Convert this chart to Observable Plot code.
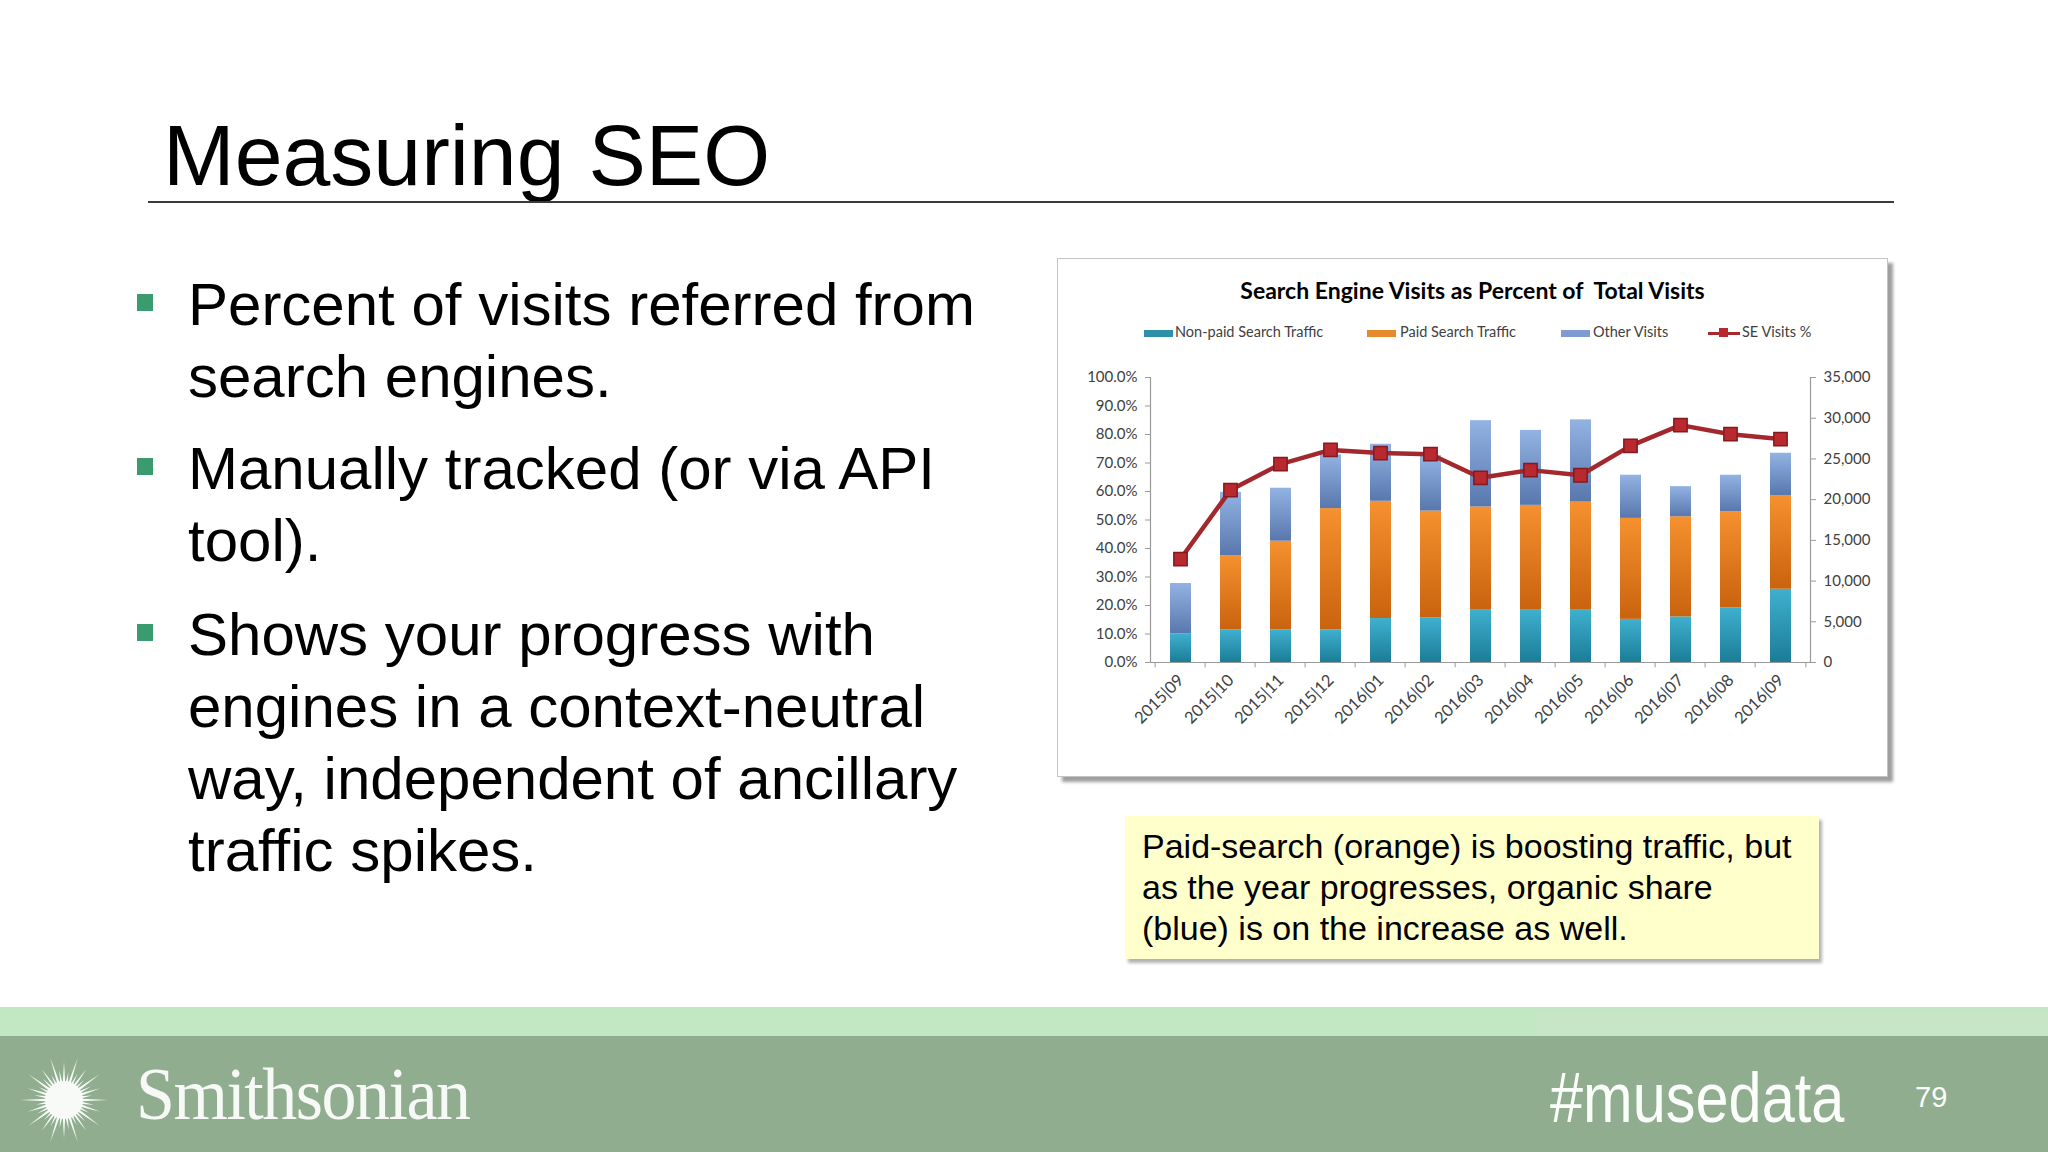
<!DOCTYPE html>
<html><head><meta charset="utf-8">
<script src="https://cdn.jsdelivr.net/npm/d3@7"></script>
<script src="https://cdn.jsdelivr.net/npm/@observablehq/plot@0.6"></script>
<style>
html,body{margin:0;padding:0;background:#fff;}
#slide{position:relative;width:2048px;height:1152px;overflow:hidden;background:#fff;font-family:"Liberation Sans",Arial,sans-serif;color:#000;}
.abs{position:absolute;}
#title{left:163px;top:112px;font-size:86px;line-height:86px;white-space:nowrap;}
#rule{left:148px;top:201px;width:1746px;height:2px;background:#3a3a3a;}
.para{left:188px;font-size:60px;line-height:72px;white-space:nowrap;}
.bullet{left:137px;width:16px;height:17px;background:#3a9b6e;}
#chartbox{left:1057px;top:258px;width:829px;height:517px;border:1px solid #c4c4c4;background:#fff;box-shadow:5px 5px 3px rgba(0,0,0,0.38);}
#ctitle{left:1057px;top:276px;width:831px;text-align:center;font-family:Lato,"Open Sans",sans-serif;font-weight:bold;font-size:23px;line-height:28px;white-space:pre;color:#000;}
.leg{top:323px;font-family:Lato,sans-serif;font-size:14.5px;line-height:18px;color:#404040;white-space:nowrap;}
.sw{top:330px;height:7px;}
#callout{left:1125px;top:816px;width:677px;height:133px;padding:10px 0 0 17px;background:#ffffcc;box-shadow:3px 4px 3px rgba(0,0,0,0.3);font-size:34px;line-height:41px;white-space:nowrap;}
#band1{left:0;top:1007px;width:2048px;height:29px;background:#c2e7c3;}
#band1b{left:1536px;top:1010px;width:512px;height:26px;background:#c6e6c6;}
#band2{left:0;top:1036px;width:2048px;height:116px;background:#90ae8f;}
#smith{left:136px;top:1057px;font-family:"Liberation Serif","DejaVu Serif",serif;font-size:70px;line-height:80px;letter-spacing:-1.5px;color:#f7f9f7;white-space:nowrap;transform:scaleY(1.05);transform-origin:left bottom;}
#muse{left:1550px;top:1058px;font-size:70px;line-height:80px;color:#fbfdfb;transform:scaleX(0.85);transform-origin:left top;white-space:nowrap;}
#page{left:1915px;top:1080px;font-size:29px;line-height:34px;color:#fbfdfb;}
</style></head>
<body><div id="slide"></div>
<script>
// ---- data ----
const months = ["2015|09","2015|10","2015|11","2015|12","2016|01","2016|02","2016|03","2016|04","2016|05","2016|06","2016|07","2016|08","2016|09"];
const seriesNames = ["Non-paid Search Traffic","Paid Search Traffic","Other Visits"];
const nonPaid = [3500, 4000, 4000, 4000, 5400, 5500, 6500, 6500, 6500, 5300, 5600, 6700, 9000];
const paidSearch = [0, 9100, 10900, 14900, 14400, 13100, 12600, 12800, 13200, 12400, 12300, 11800, 11500];
const otherVisits = [6200, 7800, 6500, 6600, 7000, 6800, 10600, 9200, 10100, 5300, 3700, 4500, 5200];
const seVisitsPct = [36.3, 60.5, 69.6, 74.6, 73.5, 73.1, 64.8, 67.5, 65.7, 76.0, 83.3, 80.1, 78.4];
const visitTicks = [0, 5000, 10000, 15000, 20000, 25000, 30000, 35000];
const pctTicks = [0, 10, 20, 30, 40, 50, 60, 70, 80, 90, 100];

const slide = document.getElementById("slide");
function add(id, cls, html) {
  const d = document.createElement("div");
  if (id) d.id = id;
  d.className = "abs" + (cls ? " " + cls : "");
  if (html != null) d.innerHTML = html;
  slide.appendChild(d);
  return d;
}

// ---- slide text ----
add("title", "", "Measuring SEO");
add("rule", "");
const paras = [
  {top: 269, lines: ["Percent of visits referred from", "search engines."]},
  {top: 433, lines: ["Manually tracked (or via API", "tool)."]},
  {top: 599, lines: ["Shows your progress with", "engines in a context-neutral", "way, independent of ancillary", "traffic spikes."]}
];
paras.forEach(p => {
  const d = add(null, "para", p.lines.join("<br>"));
  d.style.top = p.top + "px";
  const b = add(null, "bullet");
  b.style.top = (p.top + 25) + "px";
});

// ---- chart box ----
add("chartbox", "");
add("ctitle", "", "Search Engine Visits as Percent of  Total Visits");

const colors = {
  teal: ["#3fb0cf", "#1b7d97"],
  orange: ["#f5912f", "#c9630e"],
  blue: ["#93b3e3", "#5877ad"]
};
const legendItems = [
  {label: seriesNames[0], sx: 1144, tx: 1175, c: "#2e91aa"},
  {label: seriesNames[1], sx: 1367, tx: 1400, c: "#e78a2d"},
  {label: seriesNames[2], sx: 1561, tx: 1593, c: "#7f9bd2"},
  {label: "SE Visits %", sx: 1708, tx: 1742, c: null}
];
legendItems.forEach(it => {
  if (it.c) {
    const s = add(null, "sw");
    s.style.left = it.sx + "px"; s.style.width = "29px"; s.style.background = it.c;
  } else {
    const s = add(null, "sw");
    s.style.left = it.sx + "px"; s.style.width = "32px"; s.style.top = "332px"; s.style.height = "3px"; s.style.background = "#a8282d";
    const m = add(null, "sw");
    m.style.left = (it.sx + 11) + "px"; m.style.top = "328px"; m.style.width = "9px"; m.style.height = "9px"; m.style.background = "#b8292f";
  }
  const t = add(null, "leg", it.label);
  t.style.left = it.tx + "px";
});

// ---- plots ----
const W = 830, H = 400;
const M = {marginTop: 17, marginRight: 78, marginBottom: 98, marginLeft: 92};
const step = (W - M.marginLeft - M.marginRight) / months.length;
const baseStyle = {background: "transparent", fontFamily: "Lato, sans-serif", fontSize: "15px", color: "#404040", overflow: "visible"};

const long = months.flatMap((m, i) => [
  {month: m, series: seriesNames[0], value: nonPaid[i]},
  {month: m, series: seriesNames[1], value: paidSearch[i]},
  {month: m, series: seriesNames[2], value: otherVisits[i]}
]);

const barPlot = Plot.plot({
  width: W, height: H, ...M,
  style: baseStyle,
  x: {type: "band", domain: months, paddingInner: 0.59, paddingOuter: 0.295, label: null},
  y: {domain: [0, 35000], label: null},
  color: {domain: seriesNames, range: ["url(#gTeal)", "url(#gOrange)", "url(#gBlue)"]},
  marks: [
    Plot.barY(long, {x: "month", y: "value", fill: "series"}),
    Plot.ruleY([0], {stroke: "#9a9a9a", strokeWidth: 1.2}),
    Plot.frame({anchor: "right", stroke: "#9a9a9a", strokeWidth: 1.2}),
    Plot.axisY({anchor: "right", ticks: visitTicks, tickFormat: d3.format(","), tickSize: 5, tickPadding: 8, label: null, stroke: "#9a9a9a"}),
    Plot.axisX({tickRotate: -45, tickSize: 0, tickPadding: 15, label: null, fontSize: 16.5})
  ]
});
const defs = d3.select(barPlot).insert("defs", ":first-child");
[["gTeal", colors.teal], ["gOrange", colors.orange], ["gBlue", colors.blue]].forEach(([id, c]) => {
  const g = defs.append("linearGradient").attr("id", id).attr("x1", 0).attr("y1", 0).attr("x2", 0).attr("y2", 1);
  g.append("stop").attr("offset", "0%").attr("stop-color", c[0]);
  g.append("stop").attr("offset", "100%").attr("stop-color", c[1]);
});

const lineData = months.map((m, i) => ({month: m, pct: seVisitsPct[i]}));
const linePlot = Plot.plot({
  width: W, height: H, ...M,
  style: baseStyle,
  x: {type: "point", domain: months, padding: 0.5, axis: null},
  y: {domain: [0, 100], label: null},
  marks: [
    Plot.frame({anchor: "left", stroke: "#9a9a9a", strokeWidth: 1.2}),
    Plot.axisY({anchor: "left", ticks: pctTicks, tickFormat: d => d.toFixed(1) + "%", tickSize: 5, tickPadding: 8, label: null, stroke: "#9a9a9a"}),
    Plot.ruleX(months, {x: d => d, y1: 0, y2: -1.9, dx: -step / 2, stroke: "#9a9a9a"}),
    Plot.ruleX(months.slice(-1), {x: d => d, y1: 0, y2: -1.9, dx: step / 2, stroke: "#9a9a9a"}),
    Plot.line(lineData, {x: "month", y: "pct", stroke: "#a3282d", strokeWidth: 4.5}),
    Plot.dot(lineData, {x: "month", y: "pct", symbol: "square", r: 7.5, fill: "#b92a30", stroke: "#86191d", strokeWidth: 1.5})
  ]
});

[barPlot, linePlot].forEach(svg => {
  const wrap = add(null, "");
  wrap.style.left = "1058px"; wrap.style.top = "360px";
  wrap.appendChild(svg);
});

// ---- callout ----
add("callout", "", "Paid-search (orange) is boosting traffic, but<br>as the year progresses, organic share<br>(blue) is on the increase as well.");

// ---- footer ----
add("band1", "");
add("band1b", "");
add("band2", "");
const sunNS = "http://www.w3.org/2000/svg";
const sun = document.createElementNS(sunNS, "svg");
sun.setAttribute("width", 100); sun.setAttribute("height", 100);
sun.style.position = "absolute"; sun.style.left = "14px"; sun.style.top = "1050px";
const g = document.createElementNS(sunNS, "g");
g.setAttribute("transform", "translate(50,50)");
g.setAttribute("fill", "#f7faf7");
const nRays = 40;
for (let k = 0; k < nRays; k++) {
  const a = (k / nRays) * 2 * Math.PI;
  const len = [44, 30, 38, 28][k % 4];
  const w = 0.13;
  const p = document.createElementNS(sunNS, "path");
  const pt = (r, ang) => [r * Math.cos(ang), r * Math.sin(ang)].map(v => v.toFixed(2)).join(",");
  p.setAttribute("d", `M${pt(12, a - w)}L${pt(len, a)}L${pt(12, a + w)}Z`);
  g.appendChild(p);
}
const c = document.createElementNS(sunNS, "circle");
c.setAttribute("r", 19); g.appendChild(c);
sun.appendChild(g);
slide.appendChild(sun);
add("smith", "", "Smithsonian");
add("muse", "", "#musedata");
add("page", "", "79");
</script>
</body></html>
